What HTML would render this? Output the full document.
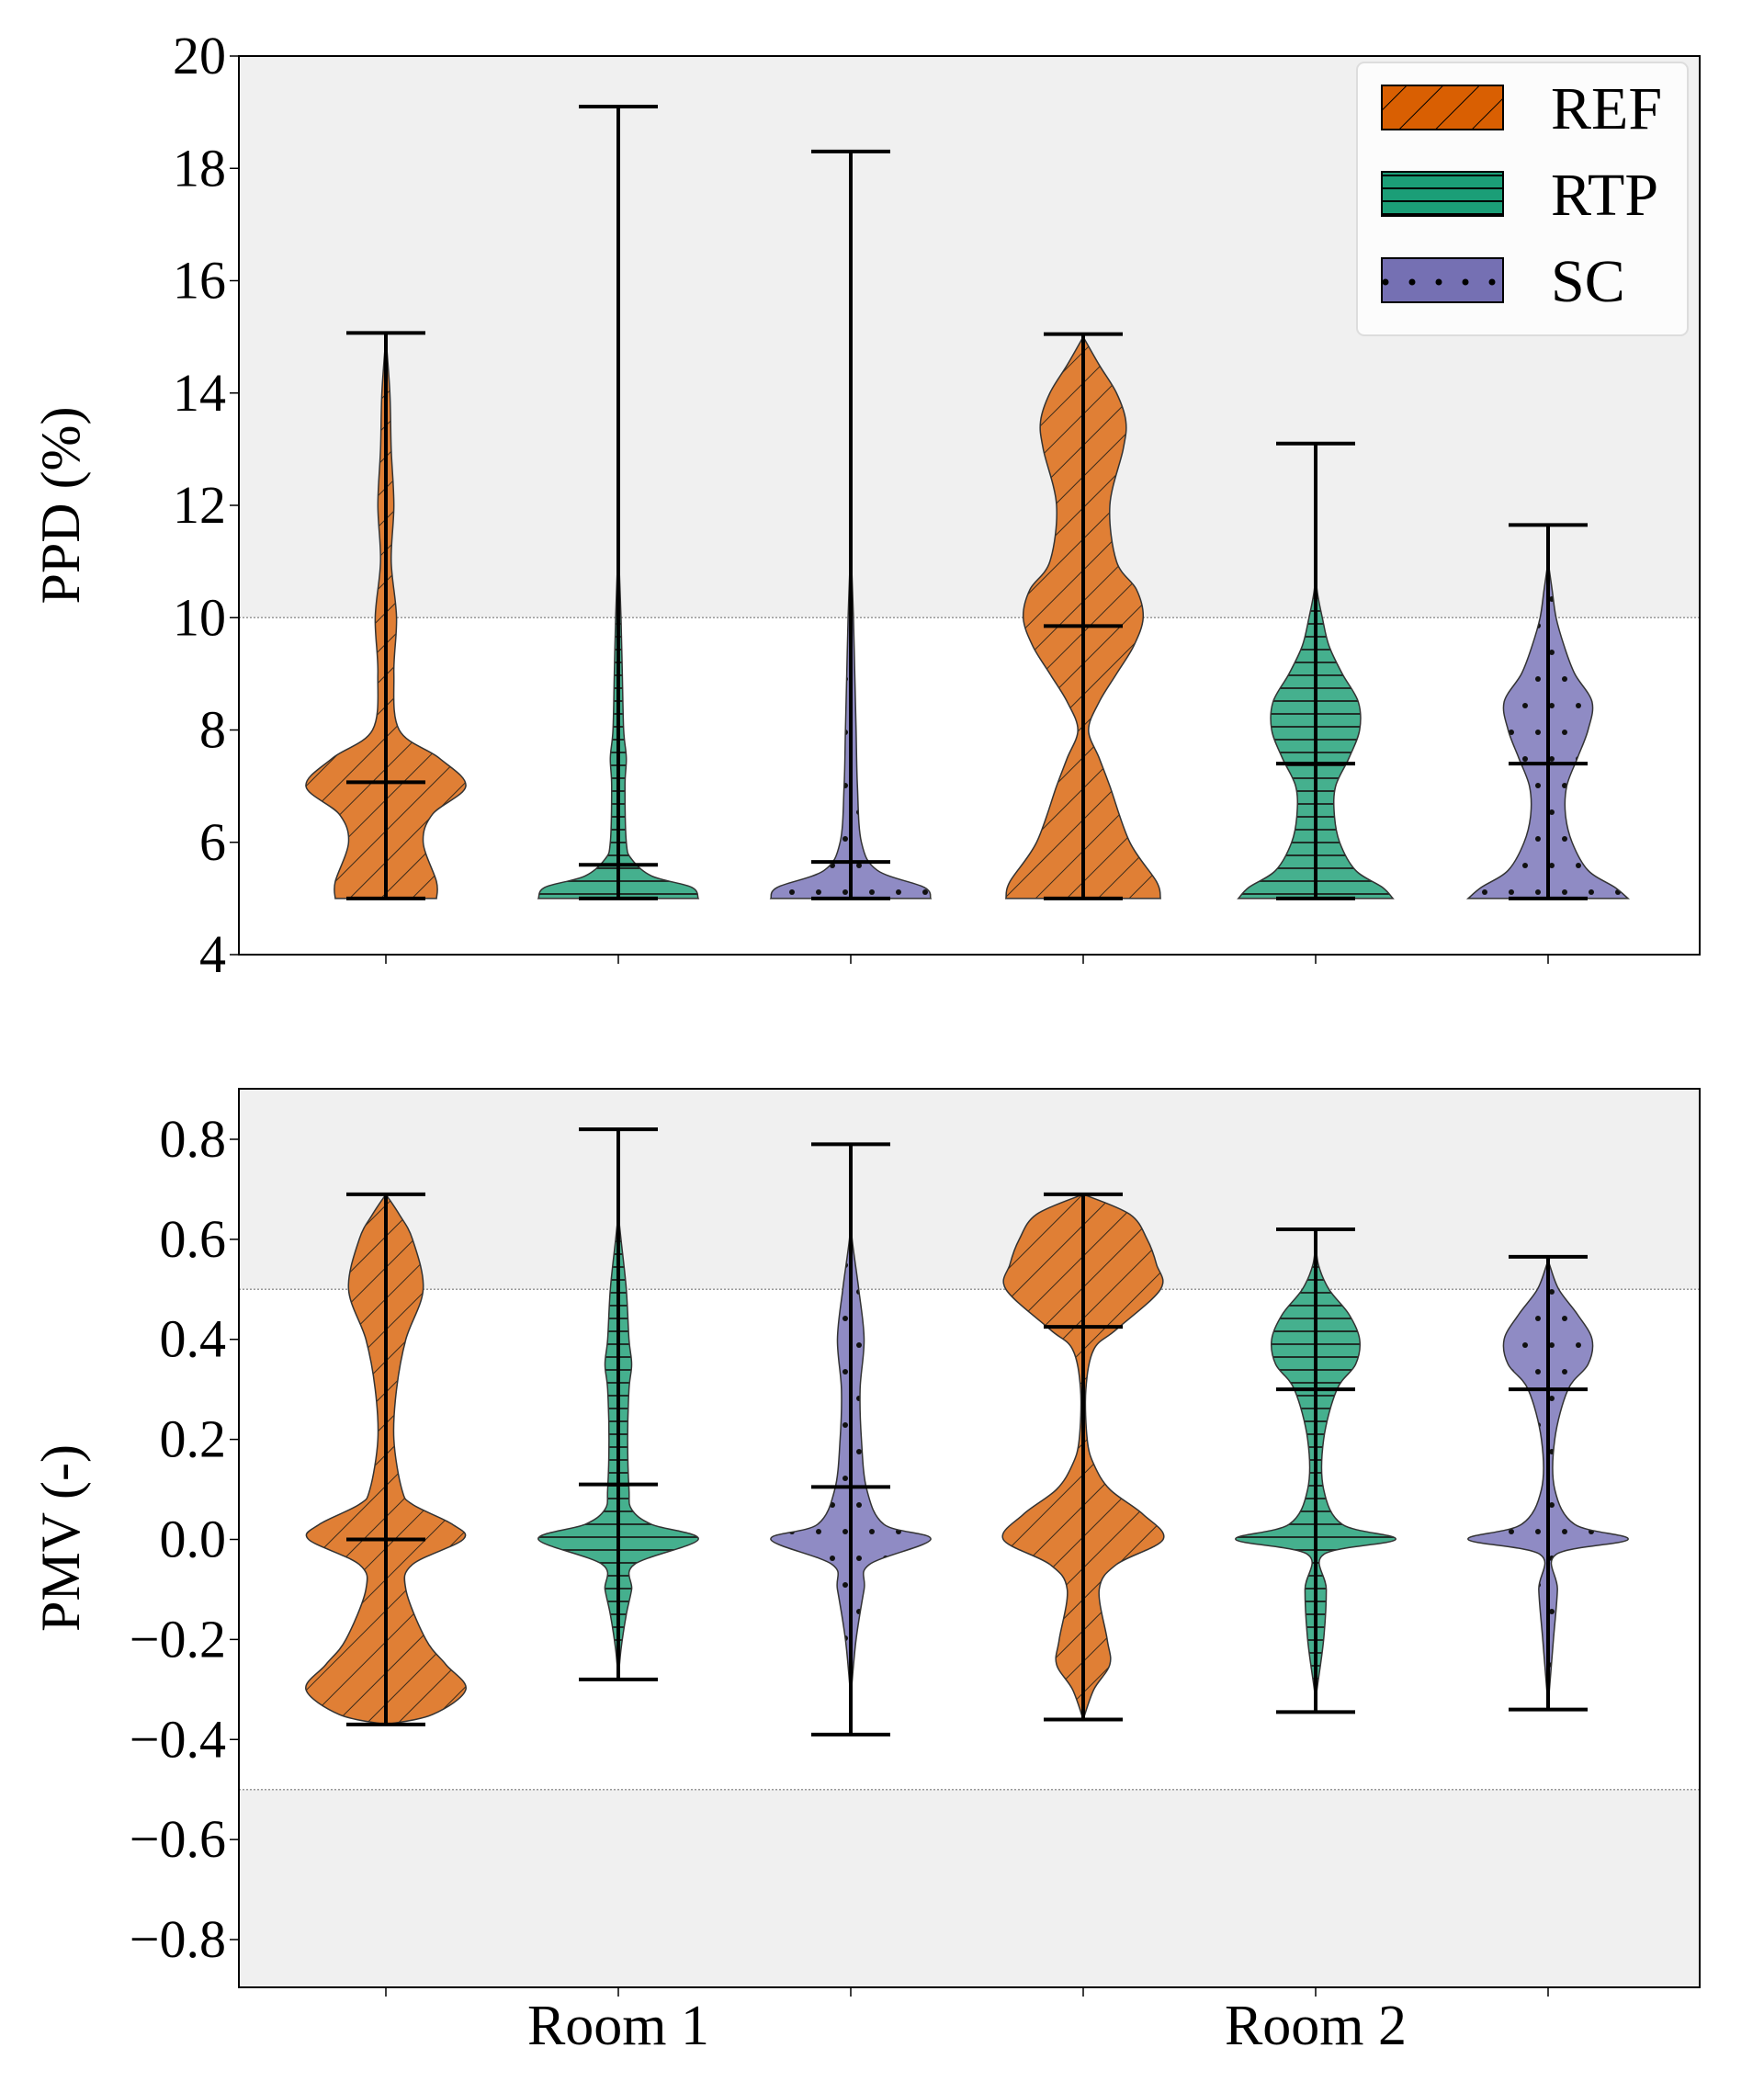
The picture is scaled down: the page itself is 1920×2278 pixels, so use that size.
<!DOCTYPE html>
<html><head><meta charset="utf-8"><style>
html,body{margin:0;padding:0;background:#fff}
svg{display:block}
text{font-family:"Liberation Serif",serif;fill:#000}
</style></head><body>
<svg id="chart" width="1920" height="2278" xmlns="http://www.w3.org/2000/svg">
<defs>
<pattern id="hatchRef" patternUnits="userSpaceOnUse" width="24" height="24" patternTransform="rotate(45)"><rect width="24" height="24" fill="#e07f35"/><line x1="0" y1="0" x2="0" y2="24" stroke="#3a2a1a" stroke-width="2"/></pattern>
<pattern id="hatchRtp" patternUnits="userSpaceOnUse" width="20" height="14"><rect width="20" height="14" fill="#45b08e"/><line x1="0" y1="7" x2="20" y2="7" stroke="#1f2f28" stroke-width="2"/></pattern>
<pattern id="hatchSc" patternUnits="userSpaceOnUse" width="29" height="58"><rect width="29" height="58" fill="#8f8bc4"/><circle cx="7" cy="14" r="3" fill="#111"/><circle cx="21" cy="43" r="3" fill="#111"/></pattern>
<pattern id="legRef" patternUnits="userSpaceOnUse" width="28" height="28" patternTransform="rotate(45)"><rect width="28" height="28" fill="#d95f02"/><line x1="0" y1="0" x2="0" y2="28" stroke="#000" stroke-width="2"/></pattern>
<pattern id="legRtp" patternUnits="userSpaceOnUse" width="20" height="14" y="90"><rect width="20" height="14" fill="#1b9e77"/><line x1="0" y1="3" x2="20" y2="3" stroke="#000" stroke-width="2"/></pattern>
<pattern id="legSc" patternUnits="userSpaceOnUse" width="29" height="48" x="1494" y="285"><rect width="29" height="48" fill="#7570b3"/><circle cx="14" cy="22" r="3.5" fill="#000"/></pattern>
</defs>
<g id="g"></g>
</svg>
<script>
const categories=["REF","RTP","SC","REF","RTP","SC"];
const rooms=["Room 1","Room 2"];
const ppdTicks=[4,6,8,10,12,14,16,18,20];
const pmvTicks=[-0.8,-0.6,-0.4,-0.2,0.0,0.2,0.4,0.6,0.8];
const pmvTickLabels=["\u22120.8","\u22120.6","\u22120.4","\u22120.2","0.0","0.2","0.4","0.6","0.8"];
const ppdMin=[5,5,5,5,5,5];
const ppdMax=[15.07,19.1,18.3,15.05,13.1,11.65];
const ppdMedian=[7.07,5.6,5.65,9.85,7.4,7.4];
const pmvMin=[-0.37,-0.28,-0.39,-0.36,-0.345,-0.34];
const pmvMax=[0.69,0.82,0.79,0.69,0.62,0.565];
const pmvMedian=[0.0,0.11,0.105,0.425,0.3,0.3];
// density profiles: [value, relative half-width]
const ppdProfiles=[
[[5,38],[5.3,38],[6,28],[6.5,35],[7,60],[7.5,40],[8,10],[9,6],[10,8],[11,4],[12,6],[13,4],[14,3],[15,0]],
[[5,60],[5.2,55],[5.4,25],[5.7,10],[6,6],[7,5],[7.5,6],[8,4],[9,3],[10,2],[11,0.5],[11.5,0]],
[[5,60],[5.2,55],[5.5,20],[6,8],[7,5],[8,4],[9,3],[10,2],[11,0.5],[11.5,0]],
[[5,58],[5.3,55],[6,35],[7,20],[7.5,12],[8,4],[8.5,12],[9,25],[9.5,38],[10,45],[10.5,40],[11,25],[12,20],[13,30],[13.5,32],[14,25],[14.5,12],[15,0]],
[[5,58],[5.2,50],[5.5,30],[6,18],[6.5,14],[7,15],[7.5,25],[8,33],[8.5,32],[9,20],[9.5,10],[10,5],[10.5,1],[11,0]],
[[5,60],[5.2,50],[5.5,30],[6,18],[6.5,13],[7,14],[7.5,22],[8,30],[8.5,33],[9,20],[9.5,12],[10,6],[10.5,3],[11,0]]
];
const pmvProfiles=[
[[-0.37,0],[-0.35,35],[-0.3,60],[-0.25,45],[-0.2,30],[-0.1,15],[-0.05,20],[0,58],[0.03,50],[0.07,20],[0.1,12],[0.2,6],[0.3,8],[0.4,15],[0.5,28],[0.6,20],[0.65,10],[0.69,0]],
[[-0.28,0],[-0.22,2],[-0.15,6],[-0.1,10],[-0.05,12],[0,60],[0.03,25],[0.06,10],[0.1,8],[0.2,7],[0.3,8],[0.35,10],[0.4,8],[0.5,6],[0.6,2],[0.65,0]],
[[-0.32,0],[-0.3,0.5],[-0.2,4],[-0.1,10],[-0.05,14],[0,60],[0.03,25],[0.1,12],[0.2,8],[0.3,7],[0.4,10],[0.5,6],[0.6,1],[0.65,0]],
[[-0.36,0],[-0.3,8],[-0.25,20],[-0.2,18],[-0.1,12],[-0.05,25],[0,60],[0.05,45],[0.1,20],[0.15,8],[0.2,3],[0.3,2],[0.38,8],[0.42,25],[0.5,58],[0.55,55],[0.6,48],[0.65,35],[0.69,0]],
[[-0.33,0],[-0.3,1],[-0.2,6],[-0.1,8],[-0.03,6],[0,60],[0.03,20],[0.1,6],[0.2,6],[0.3,16],[0.35,30],[0.4,33],[0.45,25],[0.5,10],[0.55,2],[0.6,0]],
[[-0.33,0],[-0.3,1],[-0.2,4],[-0.1,7],[-0.03,6],[0,60],[0.03,20],[0.1,5],[0.2,5],[0.3,15],[0.35,30],[0.4,33],[0.45,22],[0.5,8],[0.55,1],[0.56,0]]
];
const fills={REF:"url(#hatchRef)",RTP:"url(#hatchRtp)",SC:"url(#hatchSc)"};
const NS="http://www.w3.org/2000/svg";
const G=document.getElementById('g');
function mk(tag,attrs,parent){const e=document.createElementNS(NS,tag);for(const k in attrs)e.setAttribute(k,attrs[k]);(parent||G).appendChild(e);return e;}
const X0=260,X1=1850;
function xPos(i){return 420+i*253;}
const ppdY=v=>1039-(v-4)*(1039-61)/16;
const pmvY=v=>1675.5-v*544.4;
const WS=1.45;
function violinPath(cx,prof,yf){
  const L=prof.map(p=>[cx-p[1]*WS,yf(p[0])]);const R=prof.map(p=>[cx+p[1]*WS,yf(p[0])]).reverse();
  function seg(pts){let d='';for(let i=0;i<pts.length-1;i++){const p0=pts[Math.max(0,i-1)],p1=pts[i],p2=pts[i+1],p3=pts[Math.min(pts.length-1,i+2)];
  d+=` C${p1[0]+(p2[0]-p0[0])/6},${p1[1]+(p2[1]-p0[1])/6} ${p2[0]-(p3[0]-p1[0])/6},${p2[1]-(p3[1]-p1[1])/6} ${p2[0]},${p2[1]}`;}return d;}
  return `M${L[0][0]},${L[0][1]}`+seg(L)+` L${R[0][0]},${R[0][1]}`+seg(R)+'Z';
}
function panel(name,top,bot,yf,ticks,labels,shade,mins,maxs,meds,profs,ylabel){
  const ax=mk('g',{});
  
  
  const bg=mk('rect',{x:X0,y:top,width:X1-X0,height:bot-top,fill:'#fff'},ax);
  
  
  shade.forEach(s=>{const y1=yf(s[1]),y2=yf(s[0]);const r=mk('rect',{x:X0,y:Math.max(top,y1),width:X1-X0,height:Math.min(bot,y2)-Math.max(top,y1),fill:'#f0f0f0'},ax);
    
    });
  shade.forEach(s=>{[s[0],s[1]].forEach(v=>{const y=yf(v);if(y>top+1&&y<bot-1){const l=mk('line',{x1:X0,x2:X1,y1:y,y2:y,stroke:'#999','stroke-width':1.5,'stroke-dasharray':'2,2'},ax);
    
    }});});
  for(let i=0;i<categories.length;i++){
    const cx=xPos(i);
    const v=mk('path',{d:violinPath(cx,profs[i],yf),fill:fills[categories[i]],stroke:'#333','stroke-width':1.5},ax);
    
    
    const st={stroke:'#000','stroke-width':4};
    const b=mk('line',Object.assign({x1:cx,x2:cx,y1:yf(mins[i]),y2:yf(maxs[i])},st),ax);
    
    
    [mins[i],maxs[i],meds[i]].forEach((val,k)=>{const c=mk('line',Object.assign({x1:cx-43,x2:cx+43,y1:yf(val),y2:yf(val)},st),ax);
      
      });
    const t=mk('line',{x1:cx,x2:cx,y1:bot,y2:bot+10,stroke:'#000','stroke-width':1.5},ax);
    
    
  }
  ticks.forEach((v,k)=>{const y=yf(v);
    const t=mk('line',{x1:X0-10,x2:X0,y1:y,y2:y,stroke:'#000','stroke-width':1.5},ax);
    
    
    const tx=mk('text',{x:X0-14,y:y+19,'text-anchor':'end','font-size':58},ax);tx.textContent=labels[k];
    
    });
  const fr=mk('rect',{x:X0,y:top,width:X1-X0,height:bot-top,fill:'none',stroke:'#000','stroke-width':2},ax);
  
  
  const yl=mk('text',{x:0,y:0,'text-anchor':'middle','font-size':60,transform:`translate(86,${(top+bot)/2}) rotate(-90)`},ax);yl.textContent=ylabel;
  
  
}
panel('ppd-panel',61,1039,ppdY,ppdTicks,ppdTicks.map(String),[[10,20]],ppdMin,ppdMax,ppdMedian,ppdProfiles,'PPD (%)');
panel('pmv-panel',1185,2163,pmvY,pmvTicks,pmvTickLabels,[[0.5,0.9],[-0.9,-0.5]],pmvMin,pmvMax,pmvMedian,pmvProfiles,'PMV (-)');
rooms.forEach((r,k)=>{const t=mk('text',{x:xPos(1+3*k),y:2225,'text-anchor':'middle','font-size':62});t.textContent=r;
  
  });
// legend
const lg=mk('g',{});


const lb=mk('rect',{x:1477,y:68,width:360,height:297,rx:8,fill:'#fcfcfc',stroke:'#ddd','stroke-width':2},lg);


const legFills=["url(#legRef)","url(#legRtp)","url(#legSc)"];
["REF","RTP","SC"].forEach((n,k)=>{const y=93+k*94;
  const p=mk('rect',{x:1504,y:y,width:132,height:48,fill:legFills[k],stroke:'#000','stroke-width':2},lg);
  
  
  const t=mk('text',{x:1688,y:y+47,'font-size':66},lg);t.textContent=n;
  
  });
</script>
</body></html>
